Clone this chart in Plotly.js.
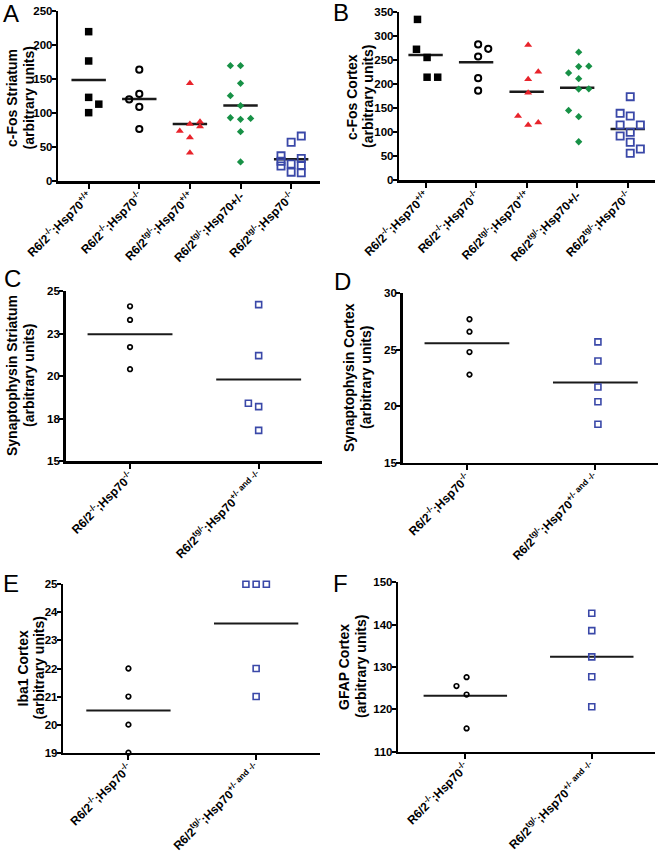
<!DOCTYPE html>
<html>
<head>
<meta charset="utf-8">
<script src="https://cdn.plot.ly/plotly-3.0.1.min.js"></script>
<style>html,body{margin:0;padding:0;background:#fff;}#chart{width:660px;height:853px;}</style>
</head>
<body>
<div id="chart"></div>
<script>
// ---------- DATA ----------
// Panel A: c-Fos Striatum
const labelsA = [
  "R6/2<sup>-/-</sup>;Hsp70<sup>+/+</sup>",
  "R6/2<sup>-/-</sup>;Hsp70<sup>-/-</sup>",
  "R6/2<sup>tg/-</sup>;Hsp70<sup>+/+</sup>",
  "R6/2<sup>tg/-</sup>;Hsp70+/-",
  "R6/2<sup>tg/-</sup>;Hsp70<sup>-/-</sup>"
];
const aG1 = [219.6, 176.5, 123, 113, 100.5];
const aG1j = [0, 0, 0, 0.2, 0];
const aG2 = [163.7, 128, 120, 109, 76.5];
const aG2j = [0, 0, -0.2, 0, 0];
const aG3 = [143.6, 87, 84, 80, 73.5, 64, 41.6];
const aG3j = [0, 0.2, 0, 0.2, -0.2, 0, 0];
const aG4 = [169.6, 169.6, 143.6, 125.4, 110.7, 93, 90.7, 92, 72.5, 28];
const aG4j = [-0.2, 0, 0, -0.2, 0, -0.2, 0, 0.2, 0, 0];
const aG5 = [66, 57, 37, 33, 29, 25, 22, 23, 13, 12];
const aG5j = [0.2, 0, -0.2, 0.2, -0.2, 0, -0.2, 0.2, 0, 0.2];
const aMeans = [148.5, 120.6, 84, 111, 31.9];

// Panel B: c-Fos Cortex
const labelsB = labelsA;
const bG1 = [334, 272, 255, 214, 214];
const bG1j = [-0.16, -0.18, 0.03, 0.03, 0.24];
const bG2 = [282, 273, 257, 212, 186];
const bG2j = [0.04, 0.24, 0.04, 0.04, 0.04];
const bG3 = [281, 225.5, 210, 182, 133.5, 115, 120];
const bG3j = [0.03, 0.23, 0.03, 0.03, -0.17, 0.03, 0.23];
const bG4 = [266, 236, 237, 223, 211, 189.5, 190, 145, 132, 80];
const bG4j = [0.03, 0.03, 0.23, -0.17, 0.03, 0.03, 0.23, -0.17, 0.03, 0.03];
const bG5 = [173.6, 139, 133.5, 114.8, 114.8, 99.6, 92, 78.9, 65, 56];
const bG5j = [0.05, -0.15, 0.05, -0.15, 0.25, 0.05, -0.15, 0.05, 0.25, 0.05];
const bMeans = [260, 245, 184, 192, 106.5];

// Panels C-F: two groups
const labelsCF = [
  "R6/2<sup>-/-</sup>;Hsp70<sup>-/-</sup>",
  "R6/2<sup>tg/-</sup>;Hsp70<sup>+/- and -/-</sup>"
];
// C: Synaptophysin Striatum
const cG1 = [24.1, 23.3, 21.7, 20.4];
const cG1j = [0, 0, 0, 0];
const cG2 = [24.2, 21.2, 18.4, 18.2, 16.8];
const cG2j = [0, 0, -0.08, 0, 0];
const cMeans = [22.45, 19.8];
const cTickVals = [15, 17.5, 20, 22.5, 25];
const cTickText = ["15", "18", "20", "23", "25"];
// D: Synaptophysin Cortex
const dG1 = [27.7, 26.6, 24.8, 22.8];
const dG1j = [0.02, 0.02, 0.02, 0.02];
const dG2 = [25.7, 24.0, 21.7, 20.4, 18.4];
const dG2j = [0.02, 0.02, 0.02, 0.02, 0.02];
const dMeans = [25.57, 22.1];
// E: Iba1 Cortex
const eG1 = [22, 21, 20, 19];
const eG1j = [0, 0, 0, 0];
const eG2 = [25, 25, 25, 22, 21];
const eG2j = [-0.08, 0, 0.08, 0, 0];
const eMeans = [20.5, 23.6];
// F: GFAP Cortex
const fG1 = [127.6, 125.5, 123.5, 115.5];
const fG1j = [0.01, -0.07, 0.01, 0.01];
const fG2 = [142.7, 138.6, 132.4, 127.7, 120.6];
const fG2j = [0, 0, 0, 0, 0];
const fMeans = [123.2, 132.4];

const yTitles = ["c-Fos Striatum", "c-Fos Cortex", "Synaptophysin Striatum", "Synaptophysin Cortex", "Iba1 Cortex", "GFAP Cortex"];
const yTitleSub = "(arbitrary units)";
const panelLetters = ["A", "B", "C", "D", "E", "F"];

// ---------- STYLE / LAYOUT ----------
const W = 660, H = 853;
const FONT = "Liberation Sans, Arial, Helvetica, sans-serif";
const BLUE = "#3a48a8", RED = "#e8232b", GREEN = "#179146", BLACK = "#000";
const px = v => v / W;
const py = v => 1 - v / H;

const traces = [];
function group(ax, cat, vals, jit, marker) {
  traces.push({
    type: "scatter", mode: "markers", xaxis: "x" + ax, yaxis: "y" + ax,
    x: vals.map((v, i) => cat + jit[i]), y: vals,
    marker: marker, cliponaxis: false, hoverinfo: "skip", showlegend: false
  });
}
function means(ax, arr, half, width) {
  arr.forEach((m, i) => {
    traces.push({
      type: "scatter", mode: "lines", xaxis: "x" + ax, yaxis: "y" + ax,
      x: [i - half, i + half], y: [m, m],
      line: {color: "#1a1a1a", width: width}, cliponaxis: false,
      hoverinfo: "skip", showlegend: false
    });
  });
}

const mkBigSq = {symbol: "square", size: 7.5, color: BLACK};
const mkBigCirc = {symbol: "circle-open", size: 6.2, color: BLACK, line: {color: BLACK, width: 2}};
const mkTri = {symbol: "triangle-up", size: 7, color: RED};
const mkDia = {symbol: "diamond", size: 5.6, color: GREEN};
const mkBigOpenSq = {symbol: "square-open", size: 7.2, color: BLUE, line: {color: BLUE, width: 1.8}};
const mkSmCirc = {symbol: "circle-open", size: 4.6, color: BLACK, line: {color: BLACK, width: 1.7}};
const mkSmSq = {symbol: "square-open", size: 6, color: BLUE, line: {color: BLUE, width: 1.6}};

// A
means("", aMeans, 0.34, 2.5);
group("", 0, aG1, aG1j, mkBigSq);
group("", 1, aG2, aG2j, mkBigCirc);
group("", 2, aG3, aG3j, mkTri);
group("", 3, aG4, aG4j, mkDia);
group("", 4, aG5, aG5j, mkBigOpenSq);
// B
means("2", bMeans, 0.34, 2.5);
group("2", 0, bG1, bG1j, mkBigSq);
group("2", 1, bG2, bG2j, mkBigCirc);
group("2", 2, bG3, bG3j, mkTri);
group("2", 3, bG4, bG4j, mkDia);
group("2", 4, bG5, bG5j, mkBigOpenSq);
// C
means("3", cMeans, 0.33, 2);
group("3", 0, cG1, cG1j, mkSmCirc);
group("3", 1, cG2, cG2j, mkSmSq);
// D
means("4", dMeans, 0.33, 2);
group("4", 0, dG1, dG1j, mkSmCirc);
group("4", 1, dG2, dG2j, mkSmSq);
// E
means("5", eMeans, 0.33, 2);
group("5", 0, eG1, eG1j, mkSmCirc);
group("5", 1, eG2, eG2j, mkSmSq);
// F
means("6", fMeans, 0.33, 2);
group("6", 0, fG1, fG1j, mkSmCirc);
group("6", 1, fG2, fG2j, mkSmSq);

const tickFont = {family: FONT, size: 11.5, color: "#000", weight: "bold"};
const xTickFont = {family: FONT, size: 12, color: "#000", weight: "bold"};
function xAxis(dom, range, labels, anchor) {
  return {
    domain: [px(dom[0]), px(dom[1])], range: range, anchor: anchor,
    tickmode: "array", tickvals: labels.map((_, i) => i), ticktext: labels,
    tickangle: -45, tickfont: xTickFont, ticklabelstandoff: -4,
    showline: true, linewidth: 2.5, linecolor: "#000",
    ticks: "outside", ticklen: 5, tickwidth: 2, tickcolor: "#000",
    showgrid: false, zeroline: false, fixedrange: true
  };
}
function yAxis(dom, range, anchor, extra) {
  return Object.assign({
    domain: [py(dom[1]), py(dom[0])], range: range, anchor: anchor,
    tickfont: tickFont,
    showline: true, linewidth: 2.5, linecolor: "#000",
    ticks: "outside", ticklen: 4, tickwidth: 2, tickcolor: "#000",
    ticklabelstandoff: -3,
    showgrid: false, zeroline: false, fixedrange: true
  }, extra);
}

const layout = {
  width: W, height: H, margin: {l: 0, r: 0, t: 0, b: 0},
  paper_bgcolor: "#fff", plot_bgcolor: "#fff", showlegend: false,
  font: {family: FONT, color: "#000"},
  xaxis:  xAxis([58.3, 320], [-0.6, 4.57], labelsA, "y"),
  yaxis:  yAxis([11, 181], [0, 250], "x", {tickmode: "linear", tick0: 0, dtick: 50}),
  xaxis2: xAxis([399.3, 655], [-0.52, 4.54], labelsB, "y2"),
  yaxis2: yAxis([11.7, 180.3], [0, 350], "x2", {tickmode: "linear", tick0: 0, dtick: 50}),
  xaxis3: xAxis([65.7, 321.7], [-0.5, 1.49], labelsCF, "y3"),
  yaxis3: yAxis([291, 461], [15, 25], "x3", {tickmode: "array", tickvals: cTickVals, ticktext: cTickText}),
  xaxis4: xAxis([402.7, 658.3], [-0.5, 1.49], labelsCF, "y4"),
  yaxis4: yAxis([293.3, 462.7], [15, 30], "x4", {tickmode: "linear", tick0: 15, dtick: 5}),
  xaxis5: xAxis([63.3, 320], [-0.51, 1.5], labelsCF, "y5"),
  yaxis5: yAxis([584.3, 752.7], [19, 25], "x5", {tickmode: "linear", tick0: 19, dtick: 1}),
  xaxis6: xAxis([398.3, 655], [-0.53, 1.5], labelsCF, "y6"),
  yaxis6: yAxis([582.3, 751.7], [110, 150], "x6", {tickmode: "linear", tick0: 110, dtick: 10}),
  annotations: []
};

const titleFont = {family: FONT, size: 14, color: "#000", weight: "bold"};
// [line1 x centre, line2 x centre, y centre] in pixels
const titlePos = [[12, 28.5, 98], [352, 368, 97], [12, 29, 376], [349, 366, 378], [22, 38, 668.5], [344, 361, 667]];
yTitles.forEach((t, i) => {
  const p = titlePos[i];
  [[t, p[0]], [yTitleSub, p[1]]].forEach(l => layout.annotations.push({
    text: l[0], xref: "paper", yref: "paper",
    x: px(l[1]), y: py(p[2]), xanchor: "center", yanchor: "middle",
    textangle: -90, showarrow: false, font: titleFont
  }));
});
const letterPos = [[1, 13.5], [331, 12], [2, 279], [332, 281.5], [1, 583.5], [331, 583.5]];
panelLetters.forEach((l, i) => layout.annotations.push({
  text: l, xref: "paper", yref: "paper", x: px(letterPos[i][0]), y: py(letterPos[i][1]),
  xanchor: "left", yanchor: "middle", showarrow: false,
  font: {family: FONT, size: 24, color: "#000"}
}));

Plotly.newPlot("chart", traces, layout, {staticPlot: true, displayModeBar: false});
</script>
</body>
</html>
